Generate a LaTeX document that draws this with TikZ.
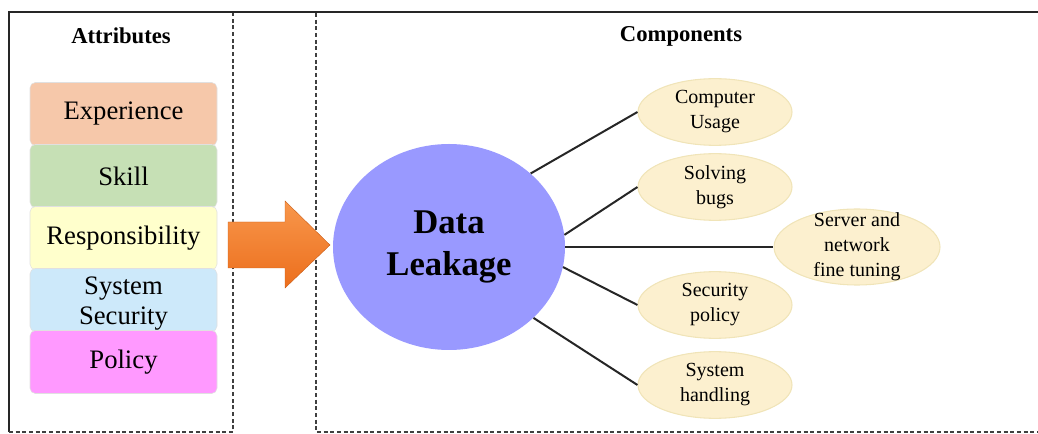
\documentclass[tikz,border=0pt]{standalone}
\usepackage{fontspec}
\setmainfont{Liberation Serif}
\usepackage{xcolor}
\usetikzlibrary{shapes.geometric}

\definecolor{expcol}{HTML}{F6C8AA}
\definecolor{skillcol}{HTML}{C6E0B5}
\definecolor{respcol}{HTML}{FFFFCC}
\definecolor{syscol}{HTML}{CDE9FA}
\definecolor{polcol}{HTML}{FF99FF}
\definecolor{leakcol}{HTML}{9999FF}
\definecolor{compcol}{HTML}{FCF0CF}
\definecolor{compedge}{HTML}{F0E4B8}
\definecolor{arrtop}{HTML}{F8974C}
\definecolor{arrbot}{HTML}{EC6E1C}

\begin{document}
\begin{tikzpicture}[x=0.75pt,y=-0.75pt,
  frame/.style={line width=1.2pt,black!85},
  sep/.style={line width=1pt,black!75,dash pattern=on 3pt off 2pt},
  head/.style={font=\fontsize{17}{20}\selectfont\bfseries},
  attrbox/.style={draw=black!12,rounded corners=4pt,minimum width=140.25pt,minimum height=47.25pt,
    align=center,inner sep=0pt,font=\fontsize{20}{22.5}\selectfont},
  compell/.style={ellipse,fill=compcol,draw=compedge,line width=0.8pt,minimum width=115.5pt,
    minimum height=50pt,inner sep=0pt,align=center,font=\fontsize{15}{18.75}\selectfont},
  link/.style={line width=1.5pt,black!85}]

\useasboundingbox (0,0) rectangle (1038,434);

% frame
\draw[frame] (9,432) -- (9,12) -- (1040,12);
\draw[sep] (9,432) -- (233,432) -- (233,13);
\draw[sep] (316,13) -- (316,432) -- (1040,432);

\node[head] (attr) at (121,36) {Attributes};
\node[head] (comp) at (681,36) {Components};

% attribute boxes
\foreach \nm/\txt/\col [count=\i] in {exp/Experience/expcol,skill/Skill/skillcol,
    resp/Responsibility/respcol,sys/{\rule{0pt}{18pt}System\\Security}/syscol,pol/Policy/polcol}{
  \node[attrbox,fill=\col] (\nm) at (123.5,{114+62*(\i-1)}) {\txt};
}

% arrow
\shade[top color=arrtop,bottom color=arrbot,draw=arrbot!85!black,line width=0.3pt]
  (228,222) -- (285,222) -- (285,201) -- (330,245) -- (285,288) -- (285,268) -- (228,268) -- cycle;

% data leakage
\node[ellipse,fill=leakcol,minimum width=174pt,minimum height=154.5pt,align=center,
  font=\fontsize{26}{31.5}\selectfont\bfseries] (dl) at (449,247) {Data\\Leakage};

% components
\node[compell] (cu) at (715,112) {Computer\\Usage};
\node[compell] (sb) at (715,187) {Solving\\bugs};
\node[compell,minimum width=124.5pt,minimum height=57pt,
  label={[align=center,font=\fontsize{15}{18.75}\selectfont]center:Server and\\network\\fine tuning}] (sn) at (857,247) {};
\node[compell] (sp) at (715,305) {Security\\policy};
\node[compell] (sh) at (715,385) {System\\handling};

\draw[link] (dl.42) -- (cu.west);
\draw[link] (dl.6) -- (sb.west);
\draw[link] (dl.east) -- (sn.west);
\draw[link] (dl.-10) -- (sp.west);
\draw[link] (dl.-40) -- (sh.west);

\end{tikzpicture}
\end{document}
